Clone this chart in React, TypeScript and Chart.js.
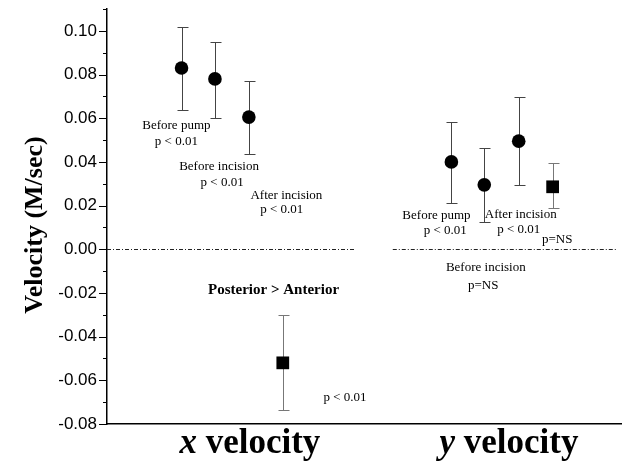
import React, { useEffect, useRef } from 'react';
import { Chart, registerables } from 'chart.js';
Chart.register(...registerables);

// Category (group) labels: italic letter + bold word
const groupLetters = ['x', 'y'];
const groupWord = 'velocity';
const groupCenters = [27.8, 78.2];

// x velocity group
const xGroupPositions = [14.5, 21, 27.6, 34.2];
const xGroupMeans = [0.083, 0.078, 0.0605, -0.052];
const xGroupUpper = [0.1018, 0.095, 0.077, -0.03];
const xGroupLower = [0.0636, 0.06, 0.0436, -0.0736];

// y velocity group
const yGroupPositions = [67, 73.4, 80.1, 86.7];
const yGroupMeans = [0.04, 0.0295, 0.0495, 0.0286];
const yGroupUpper = [0.0582, 0.0464, 0.0695, 0.0395];
const yGroupLower = [0.021, 0.0127, 0.0295, 0.019];

const markerShapes = ['circle', 'circle', 'circle', 'rect'];

// y axis
const yMin = -0.08;
const yMax = 0.11;
const yStep = 0.01;

// zero reference (dash-dot) segments in x data units
const zeroSegments = [[0, 48.3], [55.6, 99]];

// annotations: text, x, y (data units), bold
const annotTexts = [
  'Before pump', 'p < 0.01',
  'Before incision', 'p < 0.01',
  'After incision', 'p < 0.01',
  'Posterior > Anterior', 'p < 0.01',
  'Before pump', 'p < 0.01',
  'After incision', 'p < 0.01',
  'p=NS',
  'Before incision', 'p=NS',
];
const annotX = [13.5, 13.5, 21.8, 22.4, 34.9, 34, 32.4, 46.3, 64.1, 65.8, 80.5, 80.1, 87.6, 73.7, 73.2];
const annotY = [0.0564, 0.0495, 0.0377, 0.0305, 0.0245, 0.0182, -0.0186, -0.068, 0.0155, 0.0086, 0.016, 0.0091, 0.0045, -0.0086, -0.0164];
const annotBold = [false, false, false, false, false, false, true, false, false, false, false, false, false, false, false];

const yTitle = 'Velocity (M/sec)';

const SERIF = '"Liberation Serif", "Times New Roman", serif';
const SANS = '"Liberation Sans", Arial, sans-serif';

const customPlugin = {
  id: 'custom',
  beforeDatasetsDraw(chart: any) {
    const { ctx, scales } = chart;
    const xs = scales.x, ys = scales.y;
    ctx.save();
    // zero line
    ctx.strokeStyle = '#222';
    ctx.lineWidth = 1;
    ctx.setLineDash([4, 2, 1, 2]);
    zeroSegments.forEach(([a, b]) => {
      const yy = Math.round(ys.getPixelForValue(0)) + 0.5;
      ctx.beginPath();
      ctx.moveTo(xs.getPixelForValue(a), yy);
      ctx.lineTo(xs.getPixelForValue(b), yy);
      ctx.stroke();
    });
    ctx.setLineDash([]);
    // error bars
    const drawBars = (pos: number[], up: number[], lo: number[]) => {
      pos.forEach((p, i) => {
        const x = Math.round(xs.getPixelForValue(p)) + 0.5;
        const y1 = Math.round(ys.getPixelForValue(up[i])) + 0.5;
        const y2 = Math.round(ys.getPixelForValue(lo[i])) + 0.5;
        ctx.strokeStyle = markerShapes[i] === 'rect' ? '#777' : '#444';
        ctx.lineWidth = 1;
        ctx.beginPath();
        ctx.moveTo(x, y1); ctx.lineTo(x, y2);
        ctx.moveTo(x - 5, y1); ctx.lineTo(x + 6, y1);
        ctx.moveTo(x - 5, y2); ctx.lineTo(x + 6, y2);
        ctx.stroke();
      });
    };
    drawBars(xGroupPositions, xGroupUpper, xGroupLower);
    drawBars(yGroupPositions, yGroupUpper, yGroupLower);
    ctx.restore();
  },
  afterDraw(chart: any) {
    const { ctx, scales, chartArea } = chart;
    const xs = scales.x, ys = scales.y;
    ctx.save();
    // y ticks
    ctx.strokeStyle = '#000';
    ctx.lineWidth = 1;
    const n = Math.round((yMax - yMin) / yStep);
    for (let i = 0; i <= n; i++) {
      const v = yMin + i * yStep;
      const major = Math.round(v * 100) % 2 === 0;
      const py = Math.round(ys.getPixelForValue(v)) + 0.5;
      ctx.beginPath();
      ctx.moveTo(chartArea.left - (major ? 8 : 4), py);
      ctx.lineTo(chartArea.left, py);
      ctx.stroke();
    }
    // annotations
    ctx.fillStyle = '#000';
    ctx.textAlign = 'center';
    ctx.textBaseline = 'middle';
    annotTexts.forEach((t, i) => {
      ctx.font = annotBold[i] ? `bold 15px ${SERIF}` : `13px ${SERIF}`;
      ctx.fillText(t, xs.getPixelForValue(annotX[i]), ys.getPixelForValue(annotY[i]));
    });
    // group labels
    ctx.textBaseline = 'alphabetic';
    ctx.textAlign = 'left';
    groupLetters.forEach((l, i) => {
      const f1 = `italic bold 35px ${SERIF}`;
      const f2 = `bold 35px ${SERIF}`;
      ctx.font = f1;
      const w1 = ctx.measureText(l + ' ').width;
      ctx.font = f2;
      const w2 = ctx.measureText(groupWord).width;
      const cx = xs.getPixelForValue(groupCenters[i]);
      const x0 = cx - (w1 + w2) / 2;
      ctx.font = f1;
      ctx.fillText(l + ' ', x0, 453);
      ctx.font = f2;
      ctx.fillText(groupWord, x0 + w1, 453);
    });
    // y title
    ctx.save();
    ctx.translate(35, 225);
    ctx.rotate(-Math.PI / 2);
    ctx.textAlign = 'center';
    ctx.textBaseline = 'middle';
    ctx.font = `bold 26px ${SERIF}`;
    ctx.fillText(yTitle, 0, 0);
    ctx.restore();
    ctx.restore();
  },
};

export default function App() {
  const ref = useRef<HTMLCanvasElement>(null);
  useEffect(() => {
    if (!ref.current) return;
    const mk = (pos: number[], means: number[]) => pos.map((p, i) => ({ x: p, y: means[i] }));
    const radii = markerShapes.map((s) => (s === 'rect' ? 9 : 6.8));
    const chart = new Chart(ref.current, {
      type: 'scatter',
      data: {
        datasets: [
          {
            data: mk(xGroupPositions, xGroupMeans),
            pointStyle: markerShapes as any,
            pointRadius: radii,
            backgroundColor: '#000',
            borderColor: '#000',
            borderWidth: 0,
          },
          {
            data: mk(yGroupPositions, yGroupMeans),
            pointStyle: markerShapes as any,
            pointRadius: radii,
            backgroundColor: '#000',
            borderColor: '#000',
            borderWidth: 0,
          },
        ],
      },
      options: {
        animation: false,
        responsive: false,
        layout: { padding: { top: 6, right: 5, left: 0, bottom: 0 } },
        plugins: { legend: { display: false }, tooltip: { enabled: false } },
        scales: {
          x: {
            type: 'linear',
            min: 0,
            max: 100,
            ticks: { display: false },
            grid: { display: true, drawOnChartArea: false, drawTicks: false },
            border: { display: true, color: '#000', width: 1.5 },
            afterFit: (s: any) => { s.height = 42; s.paddingLeft = 0; s.paddingRight = 0; },
          },
          y: {
            type: 'linear',
            min: yMin,
            max: yMax,
            ticks: {
              stepSize: yStep,
              padding: 10,
              color: '#000',
              font: { family: SANS, size: 17 },
              callback: (v: any) => {
                const k = Math.round(Number(v) * 100);
                if (k % 2 !== 0 || k > 10) return '';
                return (k / 100).toFixed(2);
              },
            },
            grid: { display: true, drawOnChartArea: false, drawTicks: false },
            border: { display: true, color: '#000', width: 1.5 },
            afterFit: (s: any) => { s.width = 107; s.paddingTop = 0; s.paddingBottom = 0; },
          },
        },
      },
      plugins: [customPlugin],
    });
    return () => chart.destroy();
  }, []);
  return (
    <div style={{ position: 'absolute', left: 0, top: 0, width: 630, height: 466 }}>
      <canvas ref={ref} width={630} height={466} />
    </div>
  );
}
